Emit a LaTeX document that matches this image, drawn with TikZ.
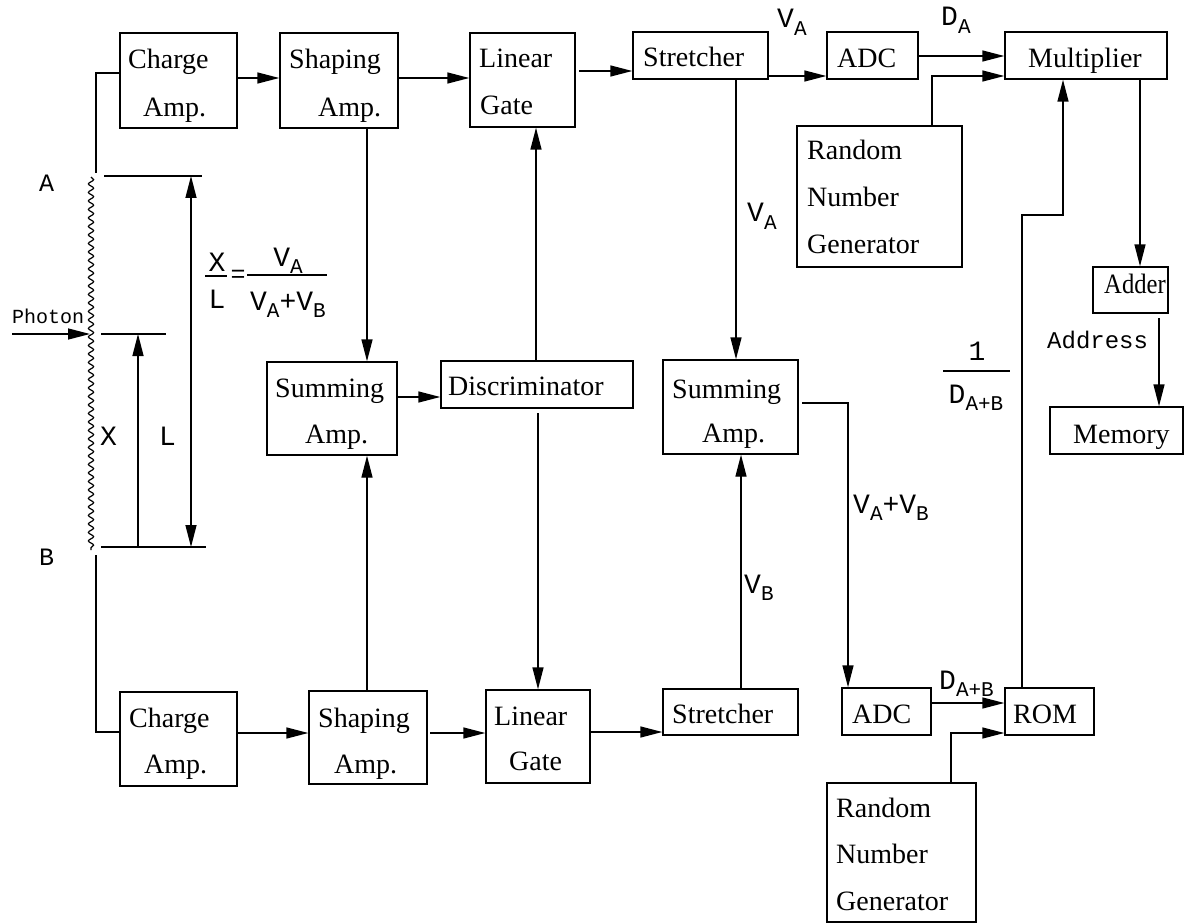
\documentclass[tikz,border=0pt]{standalone}
\usepackage{fontspec}
\usepackage{graphicx}
\setmainfont{Liberation Serif}
\newfontfamily\labfont{Liberation Mono}
\usetikzlibrary{arrows.meta,decorations.pathmorphing}
\newcommand{\bxf}{\fontsize{28}{34}\selectfont}
\newcommand{\lbf}{\labfont\fontsize{25}{30}\selectfont}
\newcommand{\vlf}{\labfont\fontsize{28}{32}\selectfont}
\newcommand{\sbs}[1]{\raisebox{-0.26em}{\fontsize{21}{24}\selectfont #1}}
\begin{document}
\begin{tikzpicture}[x=1pt,y=-1pt,
  ln/.style={line width=1.4pt},
  arr/.style={line width=1.4pt,-{Triangle[length=22pt,width=11pt]}},
  blk/.style={draw,line width=1.4pt,inner sep=0pt},
  tx/.style={inner sep=0pt,font=\bxf,anchor=base west},
  lb/.style={inner sep=0pt,font=\lbf,anchor=base west},
  vl/.style={inner sep=0pt,font=\vlf,anchor=base west},
  vlc/.style={inner sep=0pt,font=\vlf,anchor=base}]
\useasboundingbox (0,0) rectangle (1184,923);

% ---------- boxes ----------
\node[blk,minimum width=117pt,minimum height=95pt] (cA) at (178.5,80.5) {};
\node[blk,minimum width=118pt,minimum height=95pt] (sA) at (339,80.5) {};
\node[blk,minimum width=105pt,minimum height=94pt] (lgA) at (522.5,80) {};
\node[blk,minimum width=135pt,minimum height=47pt] (stA) at (700.5,55.5) {};
\node[blk,minimum width=91pt,minimum height=47pt] (adcA) at (872.5,55.5) {};
\node[blk,minimum width=162pt,minimum height=47pt] (mult) at (1086,55.5) {};
\node[blk,minimum width=165pt,minimum height=141pt] (rngA) at (879.5,196.5) {};
\node[blk,minimum width=75pt,minimum height=46pt] (adder) at (1130.5,290) {};
\node[blk,minimum width=133pt,minimum height=47pt] (mem) at (1116.5,430.5) {};
\node[blk,minimum width=130pt,minimum height=93pt] (sumL) at (332,408.5) {};
\node[blk,minimum width=192pt,minimum height=47pt] (disc) at (537,384.5) {};
\node[blk,minimum width=135pt,minimum height=94pt] (sumR) at (730.5,407) {};
\node[blk,minimum width=117pt,minimum height=94pt] (cB) at (178.5,739) {};
\node[blk,minimum width=118pt,minimum height=93pt] (sB) at (368,737.5) {};
\node[blk,minimum width=104pt,minimum height=93pt] (lgB) at (538,736.5) {};
\node[blk,minimum width=135pt,minimum height=46pt] (stB) at (730.5,712) {};
\node[blk,minimum width=89pt,minimum height=47pt] (adcB) at (886.5,711.5) {};
\node[blk,minimum width=89pt,minimum height=47pt] (rom) at (1049.5,711.5) {};
\node[blk,minimum width=149pt,minimum height=139pt] (rngB) at (901.5,852.5) {};

% ---------- box texts ----------
\node[tx] (tcA1) at (128,69) {Charge};
\node[tx] (tcA2) at (143,117) {Amp.};
\node[tx] (tsA1) at (289,69) {Shaping};
\node[tx] (tsA2) at (318,117) {Amp.};
\node[tx] (tlA1) at (479,68) {Linear};
\node[tx] (tlA2) at (480,115) {Gate};
\node[tx] (tstA) at (643,67) {Stretcher};
\node[tx] (tadA) at (837,68) {ADC};
\node[tx] (tmul) at (1028,68) {Multiplier};
\node[tx] (trA1) at (807,160) {Random};
\node[tx] (trA2) at (807,207) {Number};
\node[tx] (trA3) at (807,253) {Generator};
\node[tx] (tadd) at (1104,293) {\scalebox{0.88}[1]{Adder}};
\node[tx] (tmem) at (1073,443) {Memory};
\node[tx] (tsL1) at (275,397) {Summing};
\node[tx] (tsL2) at (305,443) {Amp.};
\node[tx] (tdis) at (448,395) {Discriminator};
\node[tx] (tsR1) at (672,398) {Summing};
\node[tx] (tsR2) at (702,442) {Amp.};
\node[tx] (tcB1) at (129,727) {Charge};
\node[tx] (tcB2) at (144,773) {Amp.};
\node[tx] (tsB1) at (318,727) {Shaping};
\node[tx] (tsB2) at (334,773) {Amp.};
\node[tx] (tlB1) at (494,725) {Linear};
\node[tx] (tlB2) at (509,770) {Gate};
\node[tx] (tstB) at (672,723) {Stretcher};
\node[tx] (tadB) at (852,723) {ADC};
\node[tx] (trom) at (1013,723) {ROM};
\node[tx] (trB1) at (836,817) {Random};
\node[tx] (trB2) at (836,863) {Number};
\node[tx] (trB3) at (836,910) {Generator};

% ---------- helper coordinates ----------
\coordinate (y56) at (0,56);
\coordinate (y71) at (0,71);
\coordinate (y73) at (0,73);
\coordinate (y76) at (0,76);
\coordinate (y78) at (0,78);
\coordinate (y215) at (0,215);
\coordinate (y318) at (0,318);
\coordinate (y397) at (0,397);
\coordinate (y403) at (0,403);
\coordinate (y413) at (0,413);
\coordinate (y703) at (0,703);
\coordinate (y732) at (0,732);
\coordinate (y733) at (0,733);
\coordinate (x367) at (367,0);
\coordinate (x430) at (430,0);
\coordinate (x536) at (536,0);
\coordinate (x538) at (538,0);
\coordinate (x579) at (579,0);
\coordinate (x591) at (591,0);
\coordinate (x736) at (736,0);
\coordinate (x741) at (741,0);
\coordinate (x802) at (802,0);
\coordinate (x848) at (848,0);
\coordinate (x932) at (932,0);
\coordinate (x951) at (951,0);
\coordinate (x1022) at (1022,0);
\coordinate (x1063) at (1063,0);
\coordinate (x1140) at (1140,0);
\coordinate (x1159) at (1159,0);

% ---------- connectors ----------
\coordinate (tA) at (96,173);
\coordinate (bB) at (96,555);
\draw[ln] (tA) |- (cA.west |- y73);
\draw[arr] (cA.east |- y78) -- (sA.west |- y78);
\draw[arr] (sA.east |- y78) -- (lgA.west |- y78);
\draw[arr] (x579 |- y71) -- (stA.west |- y71);
\draw[arr] (stA.east |- y76) -- (adcA.west |- y76);
\draw[arr] (adcA.east |- y56) -- (mult.west |- y56);
\draw[arr] (rngA.north -| x932) |- (mult.west |- y76);
\draw[arr] (rom.north -| x1022) |- (x1063 |- y215) -- (mult.south -| x1063);
\draw[arr] (mult.south -| x1140) -- (adder.north -| x1140);
\draw[arr] (x1159 |- y318) -- (mem.north -| x1159);
\draw[arr] (sA.south -| x367) -- (sumL.north -| x367);
\draw[arr] (sB.north -| x367) -- (sumL.south -| x367);
\draw[arr] (sumL.east |- y397) -- (disc.west |- y397);
\draw[arr] (disc.north -| x536) -- (lgA.south -| x536);
\draw[arr] (x538 |- y413) -- (lgB.north -| x538);
\draw[arr] (stA.south -| x736) -- (sumR.north -| x736);
\draw[arr] (stB.north -| x741) -- (sumR.south -| x741);
\draw[arr] (x802 |- y403) -| (adcB.north -| x848);
\draw[ln] (bB) |- (cB.west |- y732);
\draw[arr] (cB.east |- y733) -- (sB.west |- y733);
\draw[arr] (x430 |- y733) -- (lgB.west |- y733);
\draw[arr] (x591 |- y732) -- (stB.west |- y732);
\draw[arr] (adcB.east |- y703) -- (rom.west |- y703);
\draw[arr] (rngB.north -| x951) |- (rom.west |- y733);

% ---------- detector (left) ----------
\coordinate (wTop) at (91,177);
\coordinate (wBot) at (91,550);
\draw[line width=1.2pt,decorate,decoration={snake,segment length=8.5pt,amplitude=2.6pt}] (wTop) -- (wBot);
\coordinate (phS) at (12,334);
\coordinate (phE) at (90,334);
\draw[arr] (phS) -- (phE);
\node[inner sep=0pt,anchor=base west,font=\labfont\fontsize{20}{24}\selectfont] (tph) at (12,323) {Photon};
\coordinate (hA1) at (104,176);
\coordinate (hA2) at (202,176);
\coordinate (hP1) at (101,334);
\coordinate (hP2) at (166,334);
\coordinate (hB1) at (101,547);
\coordinate (hB2) at (206,547);
\draw[ln] (hA1) -- (hA2);
\draw[ln] (hP1) -- (hP2);
\draw[ln] (hB1) -- (hB2);
\coordinate (xB) at (138,547);
\coordinate (xT) at (138,334);
\draw[arr] (xB) -- (xT);
\coordinate (lT) at (191,176);
\coordinate (lBt) at (191,547);
\draw[line width=1.4pt,{Triangle[length=22pt,width=11pt]}-{Triangle[length=22pt,width=11pt]}] (lT) -- (lBt);
\node[lb] (tA_) at (39,192) {A};
\node[lb] (tB_) at (39,565) {B};
\node[vl] (tX) at (100,445) {X};
\node[vl] (tL) at (159,445) {L};

% ---------- formula ----------
\node[vlc] (fX) at (217,271) {X};
\node[vlc] (fL) at (217,308) {L};
\coordinate (fb1) at (205,276);
\coordinate (fb2) at (227,276);
\draw[line width=1.2pt] (fb1) -- (fb2);
\node[inner sep=0pt,font=\lbf] (feq) at (238,276) {=};
\node[vlc] (fN) at (288,266) {V\sbs{A}};
\node[vlc] (fD) at (288,310) {V\sbs{A}+V\sbs{B}};
\coordinate (fb3) at (247,275);
\coordinate (fb4) at (327,275);
\draw[line width=1.2pt] (fb3) -- (fb4);

% ---------- signal labels ----------
\node[vl] (lVA1) at (777,28) {V\sbs{A}};
\node[vl] (lDA) at (941,26) {D\sbs{A}};
\node[vl] (lVA2) at (747,222) {V\sbs{A}};
\node[vl] (lVB) at (744,593) {V\sbs{B}};
\node[vl] (lVAB) at (853,513) {V\sbs{A}+V\sbs{B}};
\node[inner sep=0pt,anchor=base west,font=\labfont\fontsize{24}{28}\selectfont] (lAddr) at (1047,348) {Address};
\node[vl] (lDAB) at (939,689) {D\sbs{A+B}};
\node[vlc] (l1) at (977,360) {1};
\coordinate (fb5) at (943,371);
\coordinate (fb6) at (1010,371);
\draw[line width=1.2pt] (fb5) -- (fb6);
\node[vlc] (lDAB2) at (976,403) {D\sbs{A+B}};
\end{tikzpicture}
\end{document}
